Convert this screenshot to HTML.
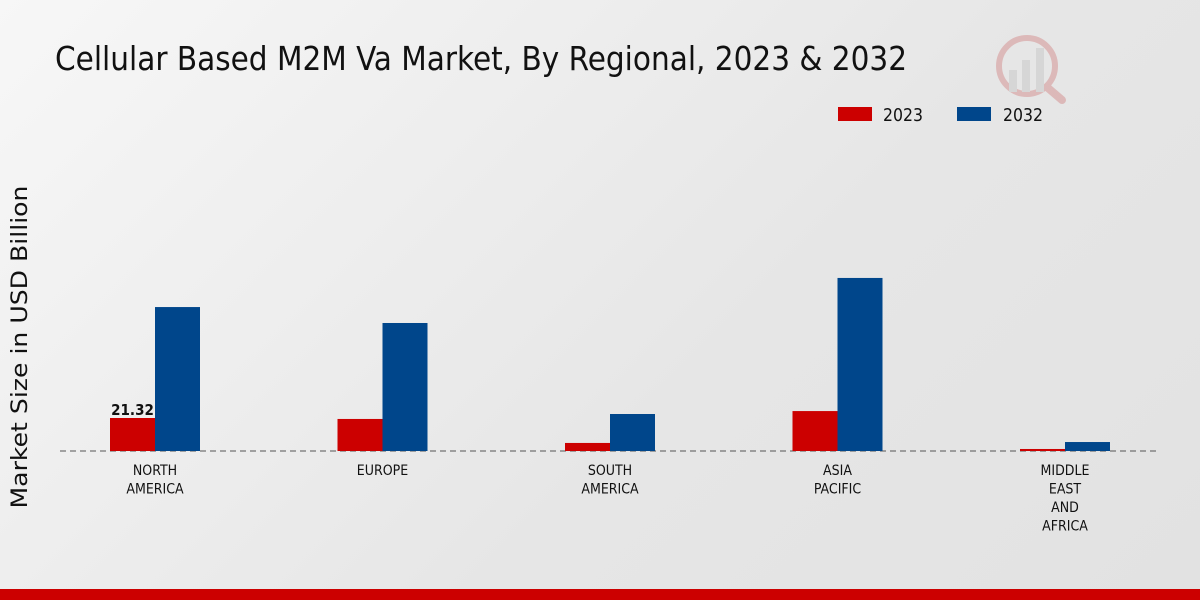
<!DOCTYPE html>
<html><head><meta charset="utf-8"><style>
body{margin:0;width:1200px;height:600px;overflow:hidden;background:linear-gradient(135deg,#f7f7f7 0%,#e6e6e6 60%,#e2e2e2 100%);font-family:"DejaVu Sans Condensed","Liberation Sans Narrow","Liberation Sans",sans-serif;}
svg{position:absolute;left:0;top:0}
text{font-family:"DejaVu Sans Condensed","Liberation Sans Narrow","Liberation Sans",sans-serif}
</style></head><body>
<svg width="1200" height="600">
<text x="55" y="70" font-size="33" fill="#111" textLength="852" lengthAdjust="spacingAndGlyphs">Cellular Based M2M Va Market, By Regional, 2023 &amp; 2032</text>
<text transform="translate(27,347) rotate(-90)" text-anchor="middle" font-size="22" fill="#111" textLength="323" lengthAdjust="spacingAndGlyphs" style="font-family:'DejaVu Sans',sans-serif">Market Size in USD Billion</text>
<g>
<rect x="838" y="107" width="34" height="14" fill="#cc0000"/>
<text x="883" y="121" font-size="18" fill="#111" textLength="40" lengthAdjust="spacingAndGlyphs">2023</text>
<rect x="957" y="107" width="34" height="14" fill="#00468b"/>
<text x="1003" y="121" font-size="18" fill="#111" textLength="40" lengthAdjust="spacingAndGlyphs">2032</text>
</g>
<g opacity="0.35">
<circle cx="1027" cy="66" r="28" fill="none" stroke="#c66" stroke-width="6"/>
<rect x="1009" y="70" width="8" height="22" fill="#bbb"/><rect x="1022" y="60" width="8" height="32" fill="#bbb"/><rect x="1036" y="48" width="8" height="44" fill="#bbb"/>
<line x1="1048" y1="88" x2="1062" y2="100" stroke="#c66" stroke-width="8" stroke-linecap="round"/>
</g>
<line x1="60" y1="451" x2="1160" y2="451" stroke="#555" stroke-width="1" stroke-dasharray="6,4"/>
<g id="bars"></g>
<rect x="0" y="589" width="1200" height="11" fill="#cc0000"/>
</svg>
<script>
const categories=[["NORTH","AMERICA"],["EUROPE"],["SOUTH","AMERICA"],["ASIA","PACIFIC"],["MIDDLE","EAST","AND","AFRICA"]];
const values2023=[21.32,20.7,5.2,25.8,1.3];
const values2032=[93.0,82.7,23.9,111.8,5.8];
const baseY=451, pxPerUnit=33/21.32;
const x0=155, step=227.5, bw=45;
const yScale=v=>baseY-v*pxPerUnit;
const g=document.getElementById('bars');
const NS='http://www.w3.org/2000/svg';
categories.forEach((c,i)=>{
  const cx=x0+i*step;
  const r=document.createElementNS(NS,'rect');
  r.setAttribute('x',cx-bw);r.setAttribute('y',yScale(values2023[i]));r.setAttribute('width',bw);r.setAttribute('height',baseY-yScale(values2023[i]));r.setAttribute('fill','#cc0000');
  
  
  g.appendChild(r);
  const b=document.createElementNS(NS,'rect');
  b.setAttribute('x',cx);b.setAttribute('y',yScale(values2032[i]));b.setAttribute('width',bw);b.setAttribute('height',baseY-yScale(values2032[i]));b.setAttribute('fill','#00468b');
  
  
  g.appendChild(b);
  c.forEach((line,j)=>{
    const t=document.createElementNS(NS,'text');
    t.setAttribute('x',cx);t.setAttribute('y',475+j*18.5);t.setAttribute('text-anchor','middle');t.setAttribute('font-size','14');t.setAttribute('fill','#111');
    t.textContent=line;
    
    
    g.appendChild(t);
  });
  if(i===0){
    const t=document.createElementNS(NS,'text');
    t.setAttribute('x',cx-bw/2);t.setAttribute('y',yScale(values2023[i])-3);t.setAttribute('text-anchor','middle');t.setAttribute('font-size','15');t.setAttribute('font-weight','bold');t.setAttribute('fill','#111');
    t.textContent=values2023[i].toFixed(2);
    
    
    g.appendChild(t);
  }
});
</script>
</body></html>
